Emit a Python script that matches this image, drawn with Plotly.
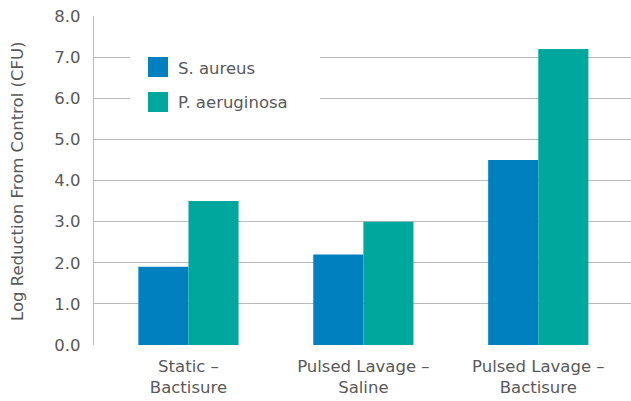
import plotly.graph_objects as go

categories = ["Static –<br>Bactisure", "Pulsed Lavage –<br>Saline", "Pulsed Lavage –<br>Bactisure"]
series_names = ["S. aureus", "P. aeruginosa"]
s_aureus = [1.9, 2.2, 4.5]
p_aeruginosa = [3.5, 3.0, 7.2]
y_ticks = [0, 1, 2, 3, 4, 5, 6, 7, 8]
y_tick_labels = ["0.0", "1.0", "2.0", "3.0", "4.0", "5.0", "6.0", "7.0", "8.0"]
colors = ["#0080BE", "#00A79D"]

FONT = "DejaVu Sans"
TEXT = "#595959"
FS = 16.5
L, T, W, H = 94, 16, 537, 329

fig = go.Figure()
x = list(range(len(categories)))
for name, vals, c in zip(series_names, [s_aureus, p_aeruginosa], colors):
    fig.add_trace(go.Bar(x=x, y=vals, name=name, marker=dict(color=c, line=dict(width=0)),
                         showlegend=False, hoverinfo="skip"))

fig.update_layout(
    width=631, height=401,
    margin=dict(l=L, r=631 - L - W, t=T, b=401 - T - H, autoexpand=False),
    paper_bgcolor="white", plot_bgcolor="white",
    barmode="group", bargap=0.427, bargroupgap=0,
    font=dict(family=FONT, color=TEXT, size=FS),
    xaxis=dict(range=[-0.54, 2.53], tickmode="array", tickvals=x, ticktext=categories,
               showgrid=False, showline=False, ticks="", zeroline=False, automargin=False,
               ticklabelstandoff=9,
               tickfont=dict(size=FS, color=TEXT, family=FONT)),
    yaxis=dict(range=[0, 8], tickmode="array", tickvals=y_ticks, ticktext=y_tick_labels,
               showgrid=True, gridcolor="#BBBBBB", gridwidth=1.3, zeroline=False,
               showline=True, linecolor="#BBBBBB", linewidth=1.3, ticks="",
               ticklabelstandoff=9, automargin=False,
               tickfont=dict(size=FS, color=TEXT, family=FONT)),
)

# y axis title
fig.add_annotation(xref="paper", yref="paper", x=(17 - L) / W, y=(T + H - 182) / H,
                   text="Log Reduction From Control (CFU)", textangle=-90, showarrow=False,
                   xanchor="center", yanchor="middle",
                   font=dict(size=FS, color=TEXT, family=FONT))

# legend box (white background over gridlines)
fig.add_shape(type="rect", xref="paper", yref="paper",
              x0=(130 - L) / W, x1=(320 - L) / W, y0=(T + H - 118) / H, y1=(T + H - 48) / H,
              fillcolor="white", line=dict(width=0), layer="above")
for i, (name, c) in enumerate(zip(series_names, colors)):
    yc = 67 + i * 35
    fig.add_shape(type="rect", xref="paper", yref="paper",
                  x0=(148 - L) / W, x1=(168 - L) / W,
                  y0=(T + H - (yc + 10)) / H, y1=(T + H - (yc - 10)) / H,
                  fillcolor=c, line=dict(width=0), layer="above")
    fig.add_annotation(xref="paper", yref="paper", x=(176 - L) / W, y=(T + H - yc - 1) / H,
                       text=name, showarrow=False, xanchor="left", yanchor="middle",
                       font=dict(size=FS, color=TEXT, family=FONT))

fig.write_html("out.html", config={"displayModeBar": False},
               post_script="document.body.style.margin='0';")
